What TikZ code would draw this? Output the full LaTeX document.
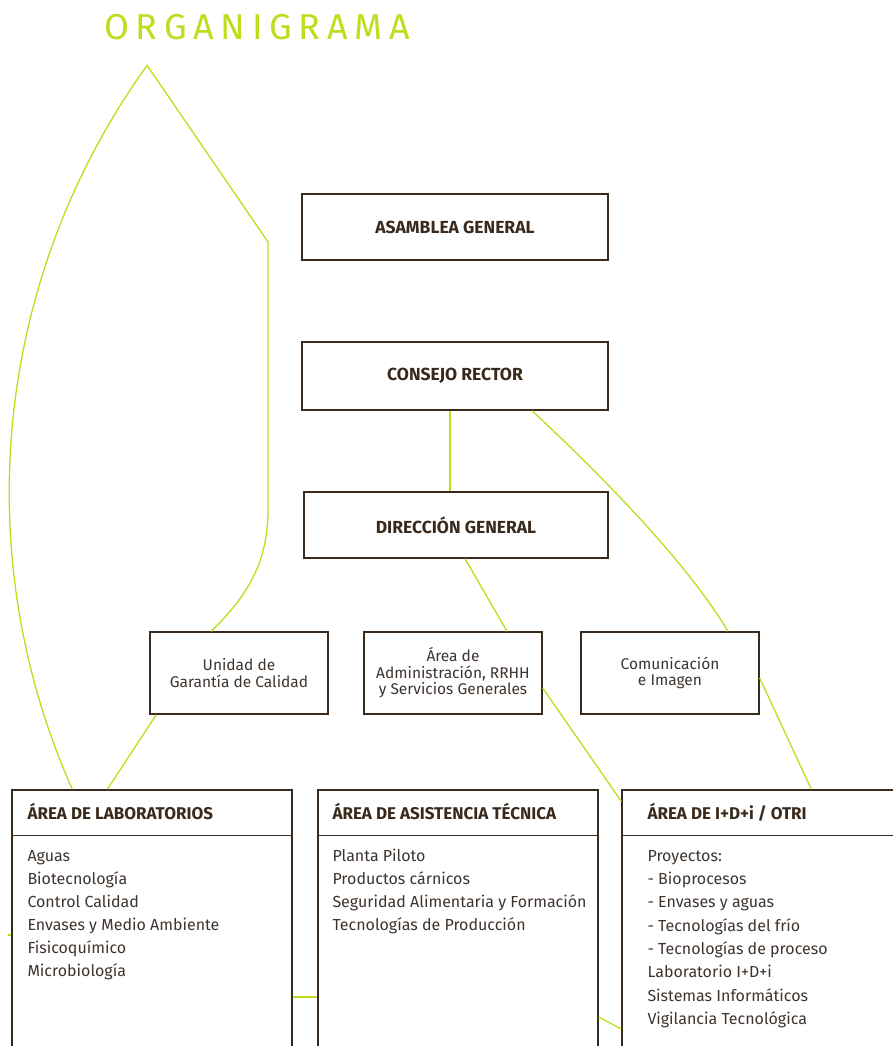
\documentclass[tikz,border=0pt]{standalone}
\usepackage{fontspec}
\setmainfont{Fira Sans}
\usetikzlibrary{calc}
\definecolor{lime}{RGB}{192,220,30}
\definecolor{boxc}{RGB}{58,42,28}
\definecolor{txtc}{RGB}{62,52,46}
\begin{document}
\begin{tikzpicture}[x=1pt,y=-1pt,
  box/.style={draw=boxc,line width=1.4pt,rectangle,inner sep=0pt,text=txtc,align=center},
  topbox/.style={box,font=\fontsize{17.5}{20}\selectfont\bfseries,text=boxc},
  midbox/.style={box,minimum width=178pt,minimum height=82pt,font=\fontsize{15.5}{16.5}\selectfont},
  areabox/.style={box,minimum height=280pt},
  gl/.style={draw=lime,line width=1.3pt},
  sep/.style={draw=boxc,line width=1.4pt},
  hd/.style={font=\fontsize{17}{19}\selectfont\bfseries,text=boxc,anchor=base west,inner sep=0pt},
  bd/.style={font=\fontsize{16}{18}\selectfont,text=txtc,anchor=base west,inner sep=0pt}
]
\useasboundingbox (0,0) rectangle (893,1046);
\clip (0,0) rectangle (893,1046);

% title
\node[anchor=base,text=lime,font=\fontsize{36}{40}\selectfont,inner sep=0pt] (title) at (257,40)
  {\makebox[306pt]{O\hfill R\hfill G\hfill A\hfill N\hfill I\hfill G\hfill R\hfill A\hfill M\hfill A}};

% top boxes
\node[topbox,minimum width=306pt,minimum height=66pt] (asamblea) at (455,227) {ASAMBLEA GENERAL};
\node[topbox,minimum width=306pt,minimum height=68pt] (consejo) at (455,376) {CONSEJO RECTOR};
\node[topbox,minimum width=304pt,minimum height=66pt] (direccion) at (456,525) {DIRECCIÓN GENERAL};

% middle boxes
\node[midbox] (unidad) at (239,673) {Unidad de\\Garantía de Calidad};
\node[midbox] (admin) at (453,673) {Área de\\Administración, RRHH\\y Servicios Generales};
\node[midbox] (comunic) at (670,673) {Comunicación\\e Imagen};

% area boxes (cut by the page edge)
\node[areabox,minimum width=280pt] (lab) at (152,930) {};
\node[areabox,minimum width=280pt] (asist) at (458,930) {};
\node[areabox,minimum width=288pt] (idi) at (766,930) {};

\draw[sep] ($(lab.north west)+(0,46)$) -- ($(lab.north east)+(0,46)$);
\draw[sep] ($(asist.north west)+(0,46)$) -- ($(asist.north east)+(0,46)$);
\draw[sep] ($(idi.north west)+(0,46)$) -- ($(idi.north east)+(0,46)$);

\node[hd] (labh) at ($(lab.north west)+(16,30)$) {ÁREA DE LABORATORIOS};
\node[hd] (asisth) at ($(asist.north west)+(15,30)$) {ÁREA DE ASISTENCIA TÉCNICA};
\node[hd] (idih) at ($(idi.north west)+(26,30)$) {ÁREA DE I+D+i / OTRI};

\foreach \t [count=\i] in {Aguas,Biotecnología,Control Calidad,Envases y Medio Ambiente,Fisicoquímico,Microbiología}
  \node[bd] (lab-\i) at ($(lab.north west)+(16,{72+23*(\i-1)})$) {\t};
\foreach \t [count=\i] in {Planta Piloto,Productos cárnicos,Seguridad Alimentaria y Formación,Tecnologías de Producción}
  \node[bd] (asist-\i) at ($(asist.north west)+(15,{72+23*(\i-1)})$) {\t};
\foreach \t [count=\i] in {Proyectos:,- Bioprocesos,- Envases y aguas,- Tecnologías del frío,- Tecnologías de proceso,Laboratorio I+D+i,Sistemas Informáticos,Vigilancia Tecnológica}
  \node[bd] (idi-\i) at ($(idi.north west)+(26,{72+23.3*(\i-1)})$) {\t};

% connectors
\draw[gl] ($(consejo.south)+(-5,0)$) -- ($(direccion.north)+(-6,0)$);
\draw[gl] ($(consejo.south)+(77,0)$) .. controls +(75,70) and +(-40,-67) .. ($(comunic.north)+(58,0)$);
\draw[gl] ($(direccion.south)+(9,0)$) -- ($(admin.north)+(54,0)$);
\draw[gl] ($(admin.east)+(0,15)$) -- ($(idi.north west)+(0,12)$);
\draw[gl] ($(comunic.east)+(0,5)$) -- ($(idi.north west)+(190,0)$);
\draw[gl] ($(unidad.south west)+(7,0)$) -- ($(lab.north west)+(96,0)$);
\draw[gl] ($(lab.east)+(0,67)$) -- ($(asist.west)+(0,67)$);
\draw[gl] ($(asist.east)+(0,87)$) -- ($(idi.west)+(0,99)$);
\draw[gl] ($(lab.west)+(-3,5)$) -- ($(lab.west)+(0,5)$);

% large loop from Laboratorios to Unidad de Garantía de Calidad
\coordinate (loopA) at ($(lab.north west)+(61,0)$);
\coordinate (loopB) at ($(unidad.north west)+(62,0)$);
\draw[gl,line join=miter] (loopA) arc[start angle=156, end angle=215.8, radius=730]
  -- (268,242) -- (268,510) .. controls (268,565) and (245,598) .. (loopB);
\end{tikzpicture}
\end{document}
